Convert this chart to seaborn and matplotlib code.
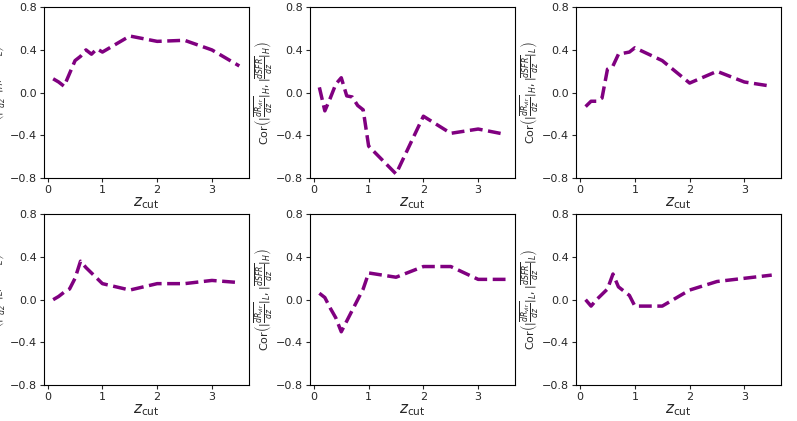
import matplotlib
matplotlib.use("Agg")
import matplotlib.pyplot as plt
import seaborn as sns
import pandas as pd

z_cut = [0.1, 0.2, 0.3, 0.4, 0.5, 0.6, 0.7, 0.8, 0.9, 1.0, 1.5, 2.0, 2.5, 3.0, 3.5]
cor_HH_sfrL = [0.13, 0.10, 0.06, 0.18, 0.30, 0.34, 0.40, 0.36, 0.41, 0.38, 0.53, 0.48, 0.49, 0.40, 0.25]
cor_H_dsfrH = [0.05, -0.17, -0.05, 0.08, 0.14, -0.03, -0.04, -0.12, -0.16, -0.50, -0.76, -0.22, -0.38, -0.34, -0.39]
cor_H_dsfrL = [-0.13, -0.08, -0.08, -0.05, 0.22, 0.25, 0.36, 0.37, 0.38, 0.42, 0.30, 0.09, 0.20, 0.10, 0.06]
cor_L_sfrL = [0.00, 0.03, 0.07, 0.10, 0.20, 0.36, 0.30, 0.25, 0.20, 0.15, 0.09, 0.15, 0.15, 0.18, 0.16]
cor_L_dsfrH = [0.06, 0.02, -0.08, -0.17, -0.30, -0.20, -0.10, 0.00, 0.10, 0.25, 0.21, 0.31, 0.31, 0.19, 0.19]
cor_L_dsfrL = [0.00, -0.06, 0.00, 0.05, 0.10, 0.24, 0.12, 0.08, 0.04, -0.06, -0.06, 0.09, 0.17, 0.20, 0.23]

series = [cor_HH_sfrL, cor_H_dsfrH, cor_H_dsfrL, cor_L_sfrL, cor_L_dsfrH, cor_L_dsfrL]
dr = r"|\overline{\frac{dR_{\rm vir}}{dz}}|"
ylabels = [
    r"Cor$\left(" + dr + r"_H, \overline{SFR_L}\right)$",
    r"Cor$\left(" + dr + r"_H, |\overline{\frac{dSFR}{dz}}|_H\right)$",
    r"Cor$\left(" + dr + r"_H, |\overline{\frac{dSFR}{dz}}|_L\right)$",
    r"Cor$\left(" + dr + r"_L, \overline{SFR_L}\right)$",
    r"Cor$\left(" + dr + r"_L, |\overline{\frac{dSFR}{dz}}|_H\right)$",
    r"Cor$\left(" + dr + r"_L, |\overline{\frac{dSFR}{dz}}|_L\right)$",
]

sns.set_style("white")
fig, axes = plt.subplots(2, 3, figsize=(7.97, 4.21), dpi=100)
fig.subplots_adjust(left=0.055, right=0.98, top=0.983, bottom=0.085, wspace=0.30, hspace=0.21)
for ax, vals, yl in zip(axes.flat, series, ylabels):
    df = pd.DataFrame({"z": z_cut, "c": vals})
    sns.lineplot(data=df, x="z", y="c", ax=ax, color="purple", lw=2.5, linestyle="--")
    ax.set_ylim(-0.8, 0.8)
    ax.set_yticks([-0.8, -0.4, 0.0, 0.4, 0.8])
    ax.set_xticks([0, 1, 2, 3])
    ax.set_xlim(-0.07, 3.67)
    ax.set_xlabel(r"$z_{\rm cut}$", fontsize=11, labelpad=0)
    ax.set_ylabel(yl, fontsize=8, labelpad=1)
    ax.tick_params(labelsize=8, length=3, pad=2, left=True, bottom=True)
    for s in ax.spines.values():
        s.set_color("black")
fig.savefig("out.png", dpi=100)
